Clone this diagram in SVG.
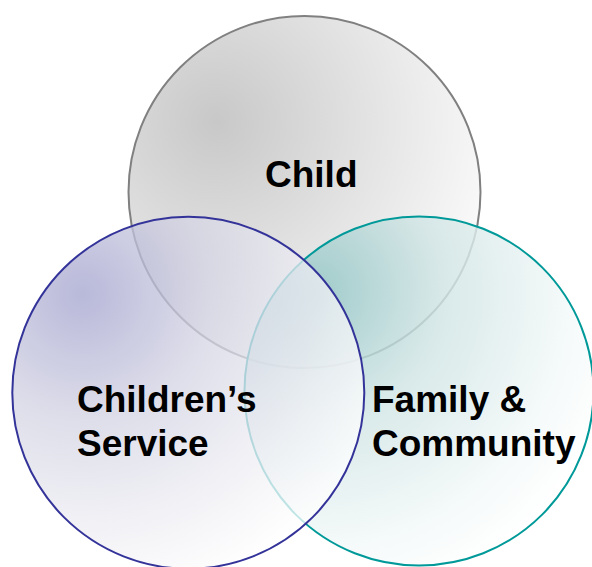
<svg xmlns="http://www.w3.org/2000/svg" width="592" height="567" viewBox="0 0 592 567">
<defs>
<radialGradient id="gTop" cx="0.25" cy="0.3" r="0.9">
<stop offset="0" stop-color="#c8c8c8"/>
<stop offset="0.5" stop-color="#e4e4e4"/>
<stop offset="1" stop-color="#ffffff"/>
</radialGradient>
<radialGradient id="gLeft" cx="0.2" cy="0.22" r="0.9">
<stop offset="0" stop-color="#a2a2ce"/>
<stop offset="0.4" stop-color="#d4d4e4"/>
<stop offset="0.8" stop-color="#f2f2f6"/>
<stop offset="1" stop-color="#ffffff"/>
</radialGradient>
<radialGradient id="gRight" cx="0.2" cy="0.22" r="0.9">
<stop offset="0" stop-color="#90c4c4"/>
<stop offset="0.4" stop-color="#d0e4e4"/>
<stop offset="0.8" stop-color="#f2f8f8"/>
<stop offset="1" stop-color="#ffffff"/>
</radialGradient>
<style>
.lbl{font-family:"Liberation Sans",Arial,sans-serif;font-weight:bold;font-size:37px;fill:#000}
</style>
</defs>
<rect width="592" height="567" fill="#ffffff"/>
<g id="child">
<circle cx="304.5" cy="192" r="176" fill="url(#gTop)" stroke="#808080" stroke-width="2"/>
</g>
<g id="family">
<circle cx="419" cy="391" r="174.5" fill="url(#gRight)" fill-opacity="0.82" stroke="#009999" stroke-width="2"/>
</g>
<g id="service">
<circle cx="188.3" cy="392.7" r="176" fill="url(#gLeft)" fill-opacity="0.76" stroke="#333399" stroke-width="2"/>
</g>
<g id="connectors"/>
<g id="labels">
<text class="lbl" x="265" y="187">Child</text>
<text class="lbl" x="77" y="412">Children’s</text>
<text class="lbl" x="77" y="456">Service</text>
<text class="lbl" x="372" y="412">Family &amp;</text>
<text class="lbl" x="372" y="456">Community</text>
</g>
</svg>
